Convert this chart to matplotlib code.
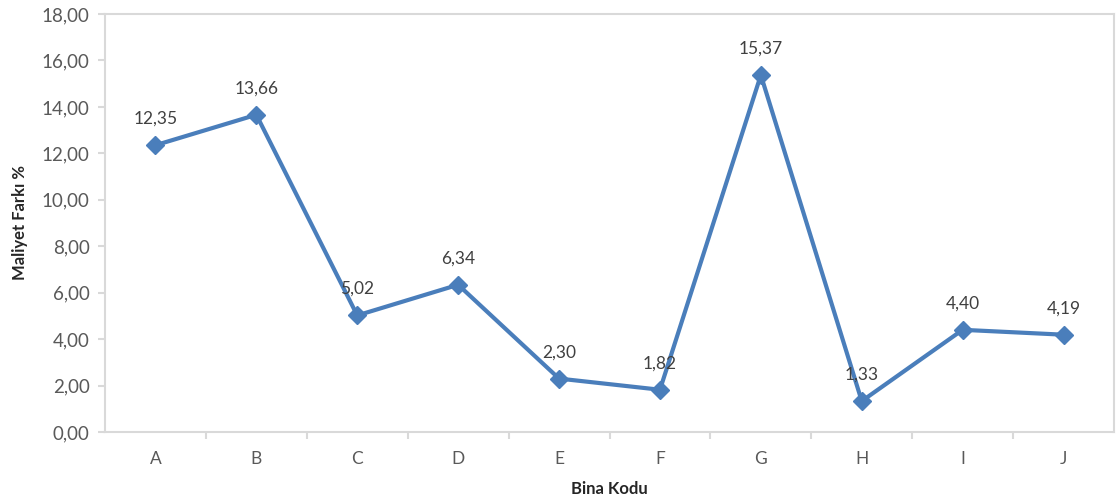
import matplotlib
matplotlib.use("Agg")
import matplotlib.pyplot as plt
import numpy as np

plt.rcParams['font.family'] = ['Lato', 'DejaVu Sans']

binalar = ["A", "B", "C", "D", "E", "F", "G", "H", "I", "J"]
maliyet_farki = [12.35, 13.66, 5.02, 6.34, 2.30, 1.82, 15.37, 1.33, 4.40, 4.19]
y_ticks = np.arange(0, 19, 2)

fig = plt.figure(figsize=(11.16, 5.0), dpi=100)
ax = fig.add_axes([105/1116, 68/500, 1009/1116, 418/500])

x = np.arange(len(binalar))
ax.plot(x, maliyet_farki, color='#4a7ebb', linewidth=3, marker='D',
        markersize=9, markerfacecolor='#4a7ebb', markeredgecolor='#4a7ebb')

for xi, v in zip(x, maliyet_farki):
    ax.annotate(f"{v:.2f}".replace('.', ','), (xi, v), xytext=(0, 19),
                textcoords='offset points', ha='center', va='center',
                fontsize=12.5, color='#404040')

ax.set_xlim(-0.5, len(binalar) - 0.5)
ax.set_ylim(0, 18)
ax.set_yticks(y_ticks)
ax.set_yticklabels([f"{t:.2f}".replace('.', ',') for t in y_ticks])
ax.set_xticks(x)
ax.set_xticklabels(binalar)
ax.set_xticks(np.arange(0.5, len(binalar) - 0.5, 1), minor=True)
ax.tick_params(axis='x', which='major', length=0, pad=14, labelsize=12.5, labelcolor='#595959')
ax.tick_params(axis='x', which='minor', length=5, color='#d9d9d9', width=1.5)
ax.tick_params(axis='y', length=5, color='#d9d9d9', width=1.5, pad=6, labelsize=13.5, labelcolor='#595959')

for s in ax.spines.values():
    s.set_color('#d9d9d9')
    s.set_linewidth(1.5)

ax.set_ylabel("Maliyet Farkı %", fontsize=12, fontweight='bold', color='#262626', labelpad=10)
ax.set_xlabel("Bina Kodu", fontsize=12, fontweight='bold', color='#262626', labelpad=10)

fig.savefig("out.png", dpi=100)
